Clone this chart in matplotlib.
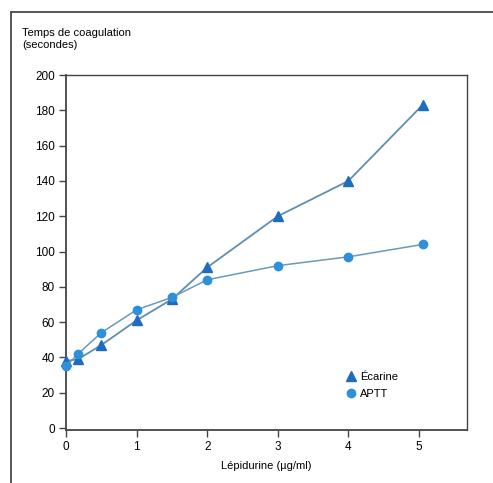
import matplotlib.pyplot as plt
from matplotlib.lines import Line2D

plt.rcParams['font.family'] = ['Liberation Sans', 'DejaVu Sans']

dose = [0, 0.17, 0.5, 1, 1.5, 2, 3, 4, 5.05]
ecarine = [38, 39, 47, 61, 73, 91, 120, 140, 183]
aptt = [35, 42, 54, 67, 74, 84, 92, 97, 104]

xticks = [0, 1, 2, 3, 4, 5]
yticks = list(range(0, 201, 20))

fig = plt.figure(figsize=(4.93, 4.83), dpi=100)
fig.add_artist(Line2D([11/493, 11/493], [0, 1 - 12/483], color='#555555', lw=1.4))
fig.add_artist(Line2D([11/493, 1], [1 - 12/483, 1 - 12/483], color='#555555', lw=1.4))

ax = fig.add_axes([66/493, 1 - 430/483, (467 - 66)/493, (430 - 75)/483])
ax.plot(dose, ecarine, color='#5f8fb0', lw=1.3, marker='^', ms=6.5,
        mfc='#1f6cbf', mec='#1f6cbf', clip_on=False, zorder=3)
ax.plot(dose, aptt, color='#6a9ab8', lw=1.1, marker='o', ms=6,
        mfc='#2e8fda', mec='#2e8fda', clip_on=False, zorder=3)

ax.set_xlim(0, 5.68)
ax.set_ylim(-1.1, 200)
ax.set_xticks(xticks)
ax.set_yticks(yticks)
ax.tick_params(direction='out', length=5, width=1, color='#444444',
               labelsize=8.5, pad=3)
for s in ax.spines.values():
    s.set_color('#444444')
    s.set_linewidth(1.3)
ax.spines['top'].set_linewidth(1.0)
ax.spines['right'].set_linewidth(1.0)

fig.text(22/493, 1 - 28/483, 'Temps de coagulation\n(secondes)', fontsize=8,
         ha='left', va='top', linespacing=1.3)
ax.set_xlabel('Lépidurine (µg/ml)', fontsize=8, labelpad=6)

handles = [Line2D([], [], ls='', marker='^', ms=6.5, mfc='#1f6cbf', mec='#1f6cbf'),
           Line2D([], [], ls='', marker='o', ms=6, mfc='#2e8fda', mec='#2e8fda')]
ax.legend(handles, ['Écarine', 'APTT'], loc='lower left',
          bbox_to_anchor=(0.67, 0.06), frameon=False, fontsize=8,
          handletextpad=0.2, labelspacing=0.6, handlelength=1.2)

fig.savefig('out.png', dpi=100)
